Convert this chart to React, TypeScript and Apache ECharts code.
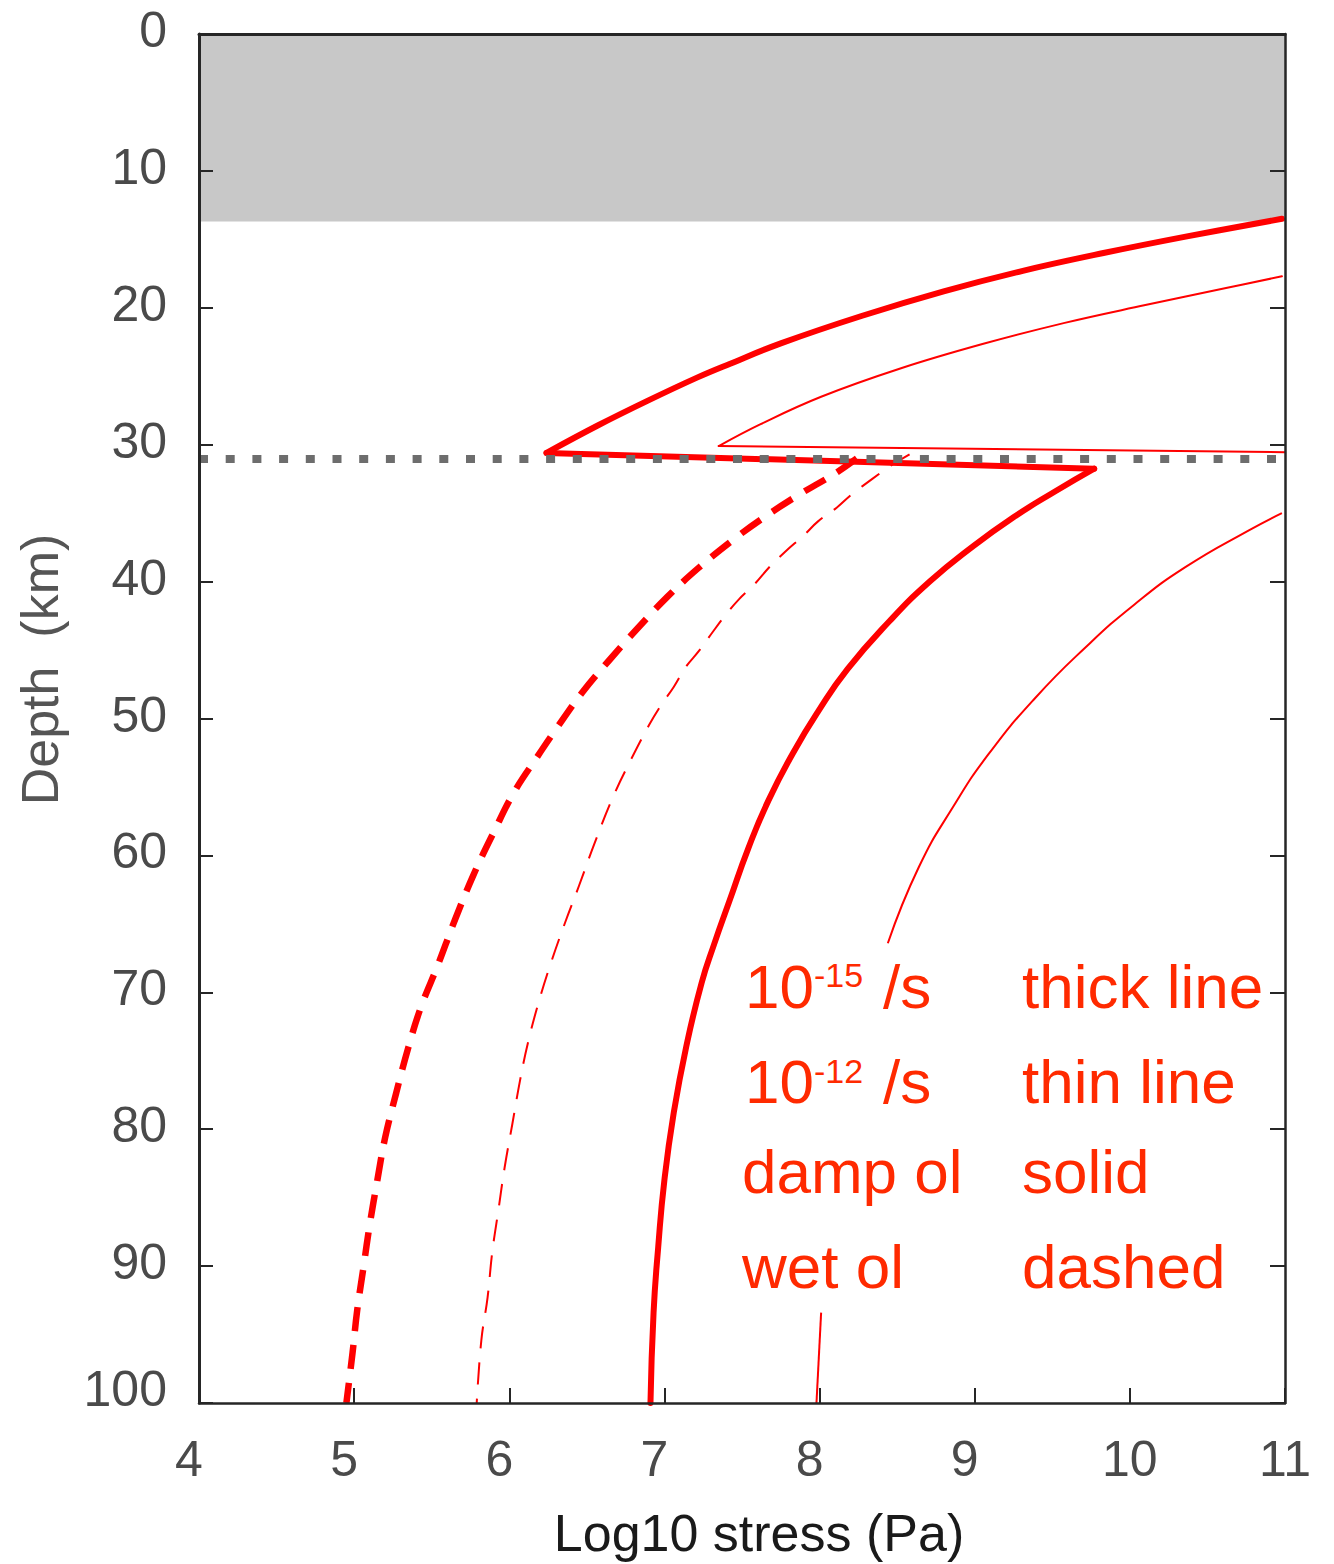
import React, { useEffect, useRef } from "react";
import * as echarts from "echarts";

// ---- Data (x = log10 stress in Pa, y = depth in km) ----
const xTicks = [4, 5, 6, 7, 8, 9, 10, 11];
const yTicks = [0, 10, 20, 30, 40, 50, 60, 70, 80, 90, 100];

const grayBandDepth = [0, 13.7];
const mohoDepth = 31.0;

// 1e-15 /s, damp olivine (thick solid)
const thickSolidCrust: number[][] = [
  [10.98, 13.5], [10.36, 14.8], [9.83, 16.0], [9.31, 17.3], [8.8, 18.8], [8.27, 20.6],
  [7.75, 22.6], [7.42, 24.1], [7.21, 25.1], [6.89, 26.8], [6.57, 28.6], [6.24, 30.6],
];
const thickSolidMoho: number[][] = [
  [6.24, 30.6], [9.77, 31.75],
];
const thickSolidMantle: number[][] = [
  [9.77, 31.75], [9.52, 33.4], [9.25, 35.3], [8.98, 37.5], [8.71, 40.0], [8.45, 42.9],
  [8.18, 46.4], [7.99, 49.5], [7.83, 52.5], [7.67, 56.0], [7.54, 59.5], [7.42, 63.3],
  [7.32, 66.5], [7.24, 69.3], [7.14, 74.0], [7.06, 78.8], [7.0, 83.7], [6.96, 88.6],
  [6.93, 93.4], [6.91, 100],
];

// 1e-12 /s, damp olivine (thin solid): crust branch, Moho jump, mantle branch, bottom stub
const thinSolidCrust: number[][] = [
  [10.98, 17.7], [10.62, 18.55], [10.1, 19.8], [9.58, 21.1], [9.05, 22.65], [8.53, 24.4],
  [8.01, 26.5], [7.62, 28.5], [7.35, 30.1],
];
const thinSolidMoho: number[][] = [
  [7.35, 30.1], [11.0, 30.55],
];
const thinSolidMantle: number[][] = [
  [10.98, 35.0], [10.77, 36.24], [10.36, 38.93], [10.03, 41.67], [9.71, 44.85],
  [9.39, 48.5], [9.09, 52.59], [8.86, 56.47], [8.64, 60.85], [8.44, 66.42],
];
const thinSolidBottom: number[][] = [
  [8.01, 93.4], [7.98, 100],
];

// 1e-15 /s, wet olivine (thick dashed)
const thickDashed: number[][] = [
  [8.24, 31.0], [8.1, 32.1], [7.86, 33.7], [7.63, 35.4], [7.46, 36.8], [7.22, 39.0],
  [7.02, 41.1], [6.82, 43.5], [6.64, 45.8], [6.47, 48.1], [6.3, 50.8], [6.18, 52.8],
  [6.03, 55.4], [5.9, 58.3], [5.77, 61.4], [5.65, 64.7], [5.54, 68.0], [5.43, 71.1],
  [5.35, 74.0], [5.27, 77.4], [5.2, 80.6], [5.15, 83.7], [5.1, 87.0], [5.06, 90.1],
  [5.02, 93.2], [4.99, 96.3], [4.95, 100],
];

// 1e-12 /s, wet olivine (thin dashed)
const thinDashed: number[][] = [
  [8.58, 30.7], [8.45, 31.6], [8.34, 32.5], [8.21, 33.6], [8.11, 34.6], [7.99, 35.6],
  [7.9, 36.6], [7.78, 37.8], [7.68, 38.9], [7.58, 40.2], [7.48, 41.3], [7.39, 42.5],
  [7.31, 43.7], [7.22, 45.1], [7.14, 46.2], [7.06, 47.7], [6.98, 49.0], [6.9, 50.5],
  [6.78, 53.1], [6.67, 55.7], [6.55, 59.1], [6.45, 62.2], [6.36, 64.9], [6.27, 67.8],
  [6.19, 70.7], [6.12, 73.7], [6.07, 76.4], [6.02, 79.6], [5.97, 82.8], [5.93, 85.9],
  [5.89, 89.0], [5.86, 92.3], [5.82, 95.4], [5.79, 100],
];

// Annotation texts
const rateBase = "10";
const rateExponents = ["-15", "-12"];
const rateUnit = "/s";
const rheologies = ["damp ol", "wet ol"];
const styleKeys = ["thick line", "thin line", "solid", "dashed"];

const FONT = '"Liberation Sans", Arial, Helvetica, sans-serif';
const RED = "#ff0000";
const TXT_RED = "#ff2a00";
const LABEL_COLOR = "#4a4a4a";

export default function App() {
  const ref = useRef<HTMLDivElement>(null);

  useEffect(() => {
    if (!ref.current) return;
    const chart = echarts.init(ref.current, undefined, { renderer: "svg" });

    const axisLineStyle = { color: "#262626", width: 2.5 };
    const tickStyle = { color: "#262626", width: 2 };

    const lineSeries = (
      name: string,
      data: number[][],
      width: number,
      type: any,
      smooth: number | boolean,
      cap: string
    ) => ({
      name,
      type: "line",
      data,
      showSymbol: false,
      symbol: "none",
      smooth,
      z: 3,
      lineStyle: { color: RED, width, type, cap, join: "round" },
      silent: true,
    });

    const mainFs = 62;
    const supFs = 34;
    const ctr = (base: number, fs: number) => base - 0.3465 * fs;
    const rowBase = [1008, 1103, 1193, 1288];
    const supBase = [987, 1083];

    const textEl = (text: string, x: number, base: number, fs: number) => ({
      type: "text",
      x,
      y: ctr(base, fs),
      z: 100,
      style: {
        text,
        fill: TXT_RED,
        font: `${fs}px ${FONT}`,
        align: "left",
        verticalAlign: "middle",
      },
    });

    const graphics: any[] = [];
    rateExponents.forEach((e, i) => {
      graphics.push(textEl(rateBase, 745, rowBase[i], mainFs));
      graphics.push(textEl(e, 814, supBase[i], supFs));
      graphics.push(textEl(rateUnit, 883, rowBase[i], mainFs));
    });
    rheologies.forEach((r, i) => {
      graphics.push(textEl(r, 742, rowBase[i + 2], mainFs));
    });
    styleKeys.forEach((k, i) => {
      graphics.push(textEl(k, 1022, rowBase[i], mainFs));
    });

    const tickFont = { fontSize: 50, color: LABEL_COLOR, fontFamily: FONT };

    chart.setOption({
      animation: false,
      backgroundColor: "#ffffff",
      textStyle: { fontFamily: FONT },
      grid: { left: 199, top: 34, right: 49, bottom: 161, containLabel: false },
      xAxis: [
        {
          type: "value",
          min: 4,
          max: 11,
          interval: 1,
          position: "bottom",
          z: 5,
          axisLine: { show: true, onZero: false, lineStyle: axisLineStyle },
          axisTick: { show: true, inside: true, length: 15, lineStyle: tickStyle },
          axisLabel: {
            show: true,
            ...tickFont,
            margin: 31,
            customValues: xTicks,
            formatter: (v: number) => (v >= 10 ? `{w|${v}}` : `{n|${v}}`),
            rich: {
              w: { ...tickFont },
              n: { ...tickFont, padding: [0, 20, 0, 0] },
            },
          },
          splitLine: { show: false },
          name: "Log10 stress (Pa)",
          nameLocation: "middle",
          nameGap: 104,
          nameTextStyle: { fontSize: 52, color: "#1a1a1a", fontFamily: FONT, padding: [0, 0, 0, 34] },
        },
        {
          type: "value",
          min: 4,
          max: 11,
          interval: 1,
          position: "top",
          z: 5,
          axisLine: { show: true, onZero: false, lineStyle: { color: "#262626", width: 3 } },
          axisTick: { show: false },
          axisLabel: { show: false },
          splitLine: { show: false },
        },
      ],
      yAxis: [
        {
          type: "value",
          inverse: true,
          min: 0,
          max: 100,
          interval: 10,
          position: "left",
          z: 5,
          axisLine: { show: true, onZero: false, lineStyle: { color: "#262626", width: 3 } },
          axisTick: { show: true, inside: true, length: 14, lineStyle: tickStyle },
          axisLabel: {
            show: true,
            ...tickFont,
            margin: 32,
            customValues: yTicks,
            formatter: (v: number) => (v === 100 ? `{b|${v}}` : `{n|${v}}`),
            rich: {
              n: { ...tickFont, padding: [0, 0, 8, 0] },
              b: { ...tickFont, padding: [0, 0, 28, 0] },
            },
          },
          splitLine: { show: false },
          name: "Depth  (km)",
          nameLocation: "middle",
          nameGap: 133,
          nameRotate: 90,
          nameTextStyle: { fontSize: 52, color: "#555555", fontFamily: FONT, padding: [0, 0, 0, 98] },
        },
        {
          type: "value",
          inverse: true,
          min: 0,
          max: 100,
          interval: 10,
          position: "right",
          z: 5,
          axisLine: { show: true, onZero: false, lineStyle: axisLineStyle },
          axisTick: { show: true, inside: true, length: 15, lineStyle: tickStyle },
          axisLabel: { show: false },
          splitLine: { show: false },
        },
      ],
      series: [
        {
          name: "background",
          type: "line",
          data: [],
          z: 1,
          silent: true,
          markArea: {
            silent: true,
            itemStyle: { color: "#c8c8c8", borderWidth: 0 },
            data: [[{ xAxis: 4, yAxis: grayBandDepth[0] }, { xAxis: 11, yAxis: grayBandDepth[1] }]],
          },
          markLine: {
            silent: true,
            symbol: ["none", "none"],
            label: { show: false },
            lineStyle: { color: "#6d6d6d", width: 8, type: [9, 17.7], cap: "butt" },
            data: [{ yAxis: mohoDepth }],
          },
        },
        lineSeries("damp ol 1e-15 crust", thickSolidCrust, 6, "solid", 0.4, "round"),
        lineSeries("damp ol 1e-15 moho", thickSolidMoho, 6, "solid", false, "round"),
        lineSeries("damp ol 1e-15 mantle", thickSolidMantle, 6, "solid", 0.5, "round"),
        lineSeries("damp ol 1e-12 crust", thinSolidCrust, 2, "solid", 0.4, "round"),
        lineSeries("damp ol 1e-12 moho", thinSolidMoho, 2, "solid", false, "round"),
        lineSeries("damp ol 1e-12 mantle", thinSolidMantle, 2, "solid", 0.5, "butt"),
        lineSeries("damp ol 1e-12 bottom", thinSolidBottom, 2, "solid", false, "butt"),
        lineSeries("wet ol 1e-15", thickDashed, 6.5, [24, 14], 0.4, "butt"),
        lineSeries("wet ol 1e-12", thinDashed, 2, [22, 14], 0.4, "butt"),
      ],
      graphic: graphics,
    });

    return () => chart.dispose();
  }, []);

  return (
    <div
      ref={ref}
      style={{ position: "fixed", left: 0, top: 0, width: 1334, height: 1564, background: "#fff" }}
    />
  );
}
